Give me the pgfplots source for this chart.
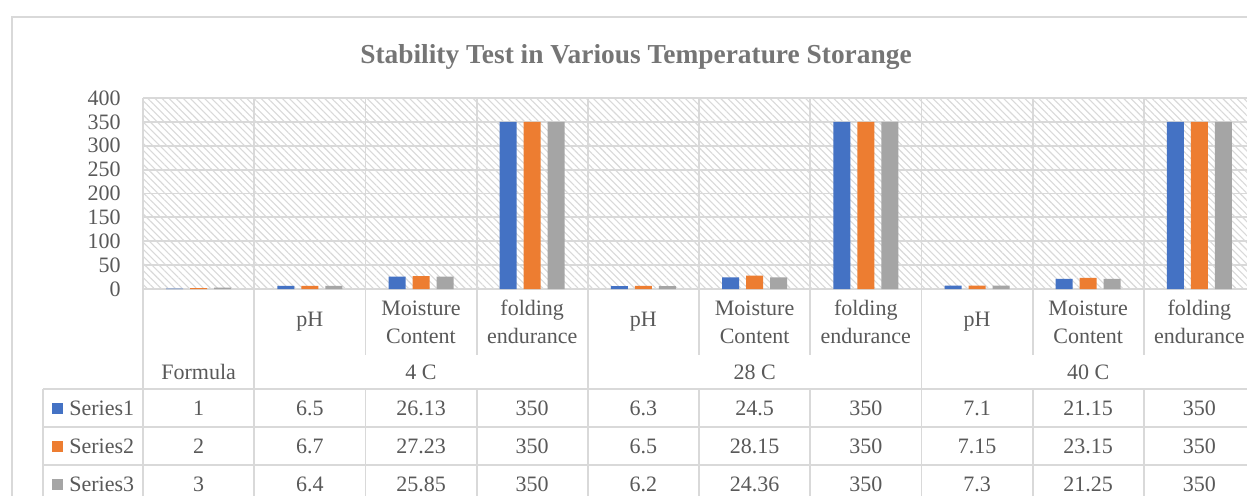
\documentclass[border=0pt]{standalone}
\usepackage{fontspec}
\setmainfont{Liberation Serif}
\usepackage{pgfplots}
\pgfplotsset{compat=1.18}
\usepackage{pgfplotstable}
\usetikzlibrary{patterns.meta}
\definecolor{sA}{HTML}{4472C4}
\definecolor{sB}{HTML}{ED7D31}
\definecolor{sC}{HTML}{A5A5A5}
\definecolor{gridc}{HTML}{D9D9D9}
\definecolor{txt}{HTML}{595959}
\definecolor{ttl}{HTML}{757575}

\pgfplotstableread{
x s1 s2 s3
0 1 2 3
1 6.5 6.7 6.4
2 26.13 27.23 25.85
3 350 350 350
4 6.3 6.5 6.2
5 24.5 28.15 24.36
6 350 350 350
7 7.1 7.15 7.3
8 21.15 23.15 21.25
9 350 350 350
}\datatable

\newcommand{\bodyfont}{\fontsize{11}{14}\selectfont}

\begin{document}
\begin{tikzpicture}
\useasboundingbox (0,0) rectangle (623.5pt,-247.5pt);
\clip (0,0) rectangle (623.5pt,-247.5pt);
\fill[white] (0,0) rectangle (623.5pt,-247.5pt);
\begin{scope}[x=0.5pt,y=-0.5pt]
\draw[gridc, line width=0.75pt] (12,700) -- (12,17) -- (1400,17);
\node[font=\bfseries\fontsize{13.7}{16}\selectfont, text=ttl] at (636,57) {Stability Test in Various Temperature Storange};
\end{scope}
\begin{axis}[at={(71.5pt,-144.5pt)}, anchor=south west,
  width=556pt, height=95.5pt, scale only axis,
  xmin=-0.5, xmax=9.5, ymin=0, ymax=400,
  ybar=3.5pt, bar width=8.5pt,
  axis line style={draw=none},
  axis background/.style={preaction={fill=white}, pattern={Lines[angle=-45,distance=2.5pt,line width=0.55pt]}, pattern color=gridc},
  ytick={0,50,...,400}, ymajorgrids,
  major grid style={gridc, line width=0.9pt},
  xtick={0,...,9},
  xticklabels={{},pH,{Moisture\\Content},{folding\\endurance},pH,{Moisture\\Content},{folding\\endurance},pH,{Moisture\\Content},{folding\\endurance}},
  minor xtick={-0.5,0.5,...,9.5}, xminorgrids,
  minor grid style={gridc, line width=0.9pt},
  major tick length=0pt, minor tick length=0pt,
  tick label style={font=\bodyfont, text=txt},
  yticklabel style={anchor=east, inner sep=0pt, xshift=-11pt},
  xticklabel style={anchor=center, align=center, inner sep=0pt, yshift=-16.5pt},
  /pgf/number format/assume math mode=true,
  clip=false,
]
\addplot[fill=sA, draw=none] table[x=x, y=s1] {\datatable};
\addplot[fill=sB, draw=none] table[x=x, y=s2] {\datatable};
\addplot[fill=sC, draw=none] table[x=x, y=s3] {\datatable};
\end{axis}
\begin{scope}[x=0.5pt,y=-0.5pt]
% table lines
\foreach \xx in {365.4,476.6,699,810.2,1032.6,1143.8} {
  \draw[gridc, line width=0.9pt] (\xx,289) -- (\xx,355);
  \draw[gridc, line width=0.9pt] (\xx,389) -- (\xx,700);
}
\foreach \xx in {143,254.2,587.8,921.4,1255} {
  \draw[gridc, line width=0.9pt] (\xx,289) -- (\xx,700);
}
\draw[gridc, line width=0.9pt] (43,389) -- (43,700);
\foreach \yy in {389,427,465} {
  \draw[gridc, line width=0.9pt] (43,\yy) -- (1400,\yy);
}
% group labels
\begin{scope}[every node/.style={font=\bodyfont, text=txt}]
\node at (198.6,372) {Formula};
\node at (421,372) {4 C};
\node at (754.6,372) {28 C};
\node at (1088.2,372) {40 C};
% legend keys
\fill[sA] (52,403) rectangle (63,414);
\fill[sB] (52,441) rectangle (63,452);
\fill[sC] (52,479) rectangle (63,490);
\node[anchor=west, inner sep=0pt] at (69,408) {Series1};
\node[anchor=west, inner sep=0pt] at (69,446) {Series2};
\node[anchor=west, inner sep=0pt] at (69,484) {Series3};
% values
\foreach \v [count=\k from 0] in {1,6.5,26.13,350,6.3,24.5,350,7.1,21.15,350}
  \node at (198.6+111.2*\k,408) {\v};
\foreach \v [count=\k from 0] in {2,6.7,27.23,350,6.5,28.15,350,7.15,23.15,350}
  \node at (198.6+111.2*\k,446) {\v};
\foreach \v [count=\k from 0] in {3,6.4,25.85,350,6.2,24.36,350,7.3,21.25,350}
  \node at (198.6+111.2*\k,484) {\v};
\end{scope}
\end{scope}
\end{tikzpicture}
\end{document}
